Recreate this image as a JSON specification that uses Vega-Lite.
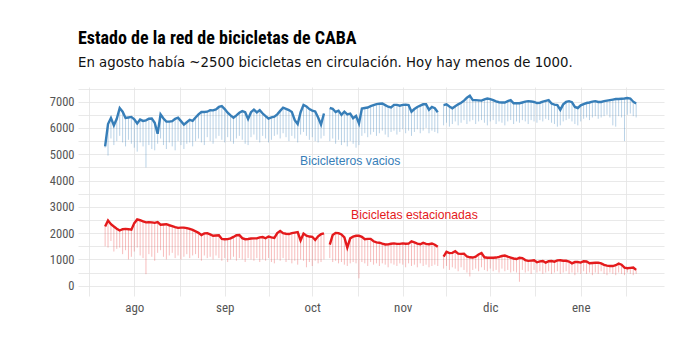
{
  "$schema": "https://vega.github.io/schema/vega-lite/v6.json",
  "width": 586,
  "height": 209,
  "autosize": {"type": "none"},
  "padding": {"left": 78, "top": 87, "right": 29, "bottom": 63},
  "background": "white",
  "title": {
    "text": "Estado de la red de bicicletas de CABA",
    "subtitle": "En agosto había ~2500 bicicletas en circulación. Hoy hay menos de 1000.",
    "anchor": "start",
    "frame": "group",
    "font": "Roboto Condensed, Liberation Sans Narrow, Roboto",
    "fontSize": 18,
    "fontWeight": "bold",
    "color": "#000000",
    "subtitleFont": "DejaVu Sans",
    "subtitleFontSize": 13.3,
    "subtitleColor": "#111111",
    "subtitlePadding": 8,
    "offset": 13
  },
  "config": {
    "view": {"stroke": null},
    "axis": {
      "domain": false,
      "ticks": false,
      "gridColor": "#e3e3e3",
      "gridWidth": 0.8,
      "labelFont": "Roboto Condensed, Liberation Sans Narrow, Roboto",
      "labelFontSize": 12.5,
      "labelColor": "#555555",
      "labelFlush": false,
      "title": null
    }
  },
  "datasets": {
    "d": [
      {"d":"2018-07-22","bx":5300,"bn":5250,"rx":2250,"rn":1500},
      {"d":"2018-07-23","bx":6150,"bn":4950,"rx":2480,"rn":1450},
      {"d":"2018-07-24","bx":6380,"bn":5600,"rx":2340,"rn":1700},
      {"d":"2018-07-25","bx":6100,"bn":5350,"rx":2250,"rn":1300},
      {"d":"2018-07-26","bx":6350,"bn":5500,"rx":2170,"rn":1400},
      {"d":"2018-07-27","bx":6760,"bn":5700,"rx":2100,"rn":1450},
      {"d":"2018-07-28","bx":6620,"bn":5450,"rx":2150,"rn":1200},
      {"d":"2018-07-29","bx":6380,"bn":5300,"rx":2160,"rn":1350},
      {"d":"2018-07-30","bx":6400,"bn":5550,"rx":2150,"rn":1000},
      {"d":"2018-07-31","bx":6420,"bn":5400,"rx":2130,"rn":1100},
      {"d":"2018-08-01","bx":6330,"bn":5250,"rx":2380,"rn":1300},
      {"d":"2018-08-02","bx":6170,"bn":5100,"rx":2520,"rn":1450},
      {"d":"2018-08-03","bx":6320,"bn":5450,"rx":2490,"rn":1150},
      {"d":"2018-08-04","bx":6270,"bn":5300,"rx":2450,"rn":1050},
      {"d":"2018-08-05","bx":6290,"bn":4500,"rx":2410,"rn":440},
      {"d":"2018-08-06","bx":6350,"bn":5350,"rx":2420,"rn":1200},
      {"d":"2018-08-07","bx":6360,"bn":5200,"rx":2410,"rn":1100},
      {"d":"2018-08-08","bx":6200,"bn":5150,"rx":2390,"rn":950},
      {"d":"2018-08-09","bx":5780,"bn":5400,"rx":2420,"rn":1250},
      {"d":"2018-08-10","bx":6520,"bn":5600,"rx":2320,"rn":1350},
      {"d":"2018-08-11","bx":6360,"bn":5350,"rx":2330,"rn":1100},
      {"d":"2018-08-12","bx":6240,"bn":5200,"rx":2340,"rn":1000},
      {"d":"2018-08-13","bx":6240,"bn":5450,"rx":2300,"rn":1150},
      {"d":"2018-08-14","bx":6260,"bn":5300,"rx":2270,"rn":1250},
      {"d":"2018-08-15","bx":6350,"bn":5150,"rx":2230,"rn":1050},
      {"d":"2018-08-16","bx":6390,"bn":5500,"rx":2200,"rn":1150},
      {"d":"2018-08-17","bx":6260,"bn":5350,"rx":2210,"rn":1000},
      {"d":"2018-08-18","bx":6130,"bn":5200,"rx":2210,"rn":1100},
      {"d":"2018-08-19","bx":6220,"bn":5400,"rx":2190,"rn":1200},
      {"d":"2018-08-20","bx":6310,"bn":5450,"rx":2160,"rn":1050},
      {"d":"2018-08-21","bx":6270,"bn":5300,"rx":2120,"rn":1150},
      {"d":"2018-08-22","bx":6400,"bn":5500,"rx":2070,"rn":1200},
      {"d":"2018-08-23","bx":6520,"bn":5600,"rx":2010,"rn":1050},
      {"d":"2018-08-24","bx":6610,"bn":5450,"rx":1930,"rn":950},
      {"d":"2018-08-25","bx":6610,"bn":5350,"rx":1990,"rn":1150},
      {"d":"2018-08-26","bx":6620,"bn":5650,"rx":2000,"rn":1050},
      {"d":"2018-08-27","bx":6680,"bn":5500,"rx":1950,"rn":1100},
      {"d":"2018-08-28","bx":6670,"bn":5400,"rx":1900,"rn":1000},
      {"d":"2018-08-29","bx":6710,"bn":5600,"rx":1910,"rn":1150},
      {"d":"2018-08-30","bx":6800,"bn":5700,"rx":1920,"rn":1050},
      {"d":"2018-08-31","bx":6830,"bn":5550,"rx":1780,"rn":950},
      {"d":"2018-09-01","bx":6720,"bn":5450,"rx":1765,"rn":1050},
      {"d":"2018-09-02","bx":6580,"bn":5650,"rx":1770,"rn":900},
      {"d":"2018-09-03","bx":6480,"bn":5500,"rx":1800,"rn":1000},
      {"d":"2018-09-04","bx":6390,"bn":5400,"rx":1855,"rn":1100},
      {"d":"2018-09-05","bx":6480,"bn":5600,"rx":1920,"rn":950},
      {"d":"2018-09-06","bx":6580,"bn":5700,"rx":1930,"rn":1050},
      {"d":"2018-09-07","bx":6640,"bn":5550,"rx":1810,"rn":1000},
      {"d":"2018-09-08","bx":6600,"bn":5400,"rx":1770,"rn":900},
      {"d":"2018-09-09","bx":6340,"bn":5350,"rx":1775,"rn":1050},
      {"d":"2018-09-10","bx":6600,"bn":5650,"rx":1795,"rn":1000},
      {"d":"2018-09-11","bx":6700,"bn":5750,"rx":1800,"rn":950},
      {"d":"2018-09-12","bx":6590,"bn":5550,"rx":1800,"rn":1050},
      {"d":"2018-09-13","bx":6680,"bn":5450,"rx":1840,"rn":900},
      {"d":"2018-09-14","bx":6550,"bn":5700,"rx":1850,"rn":1000},
      {"d":"2018-09-15","bx":6450,"bn":5600,"rx":1805,"rn":950},
      {"d":"2018-09-16","bx":6360,"bn":5450,"rx":1870,"rn":1050},
      {"d":"2018-09-17","bx":6400,"bn":5550,"rx":1840,"rn":900},
      {"d":"2018-09-18","bx":6430,"bn":5700,"rx":1820,"rn":850},
      {"d":"2018-09-19","bx":6520,"bn":5750,"rx":2000,"rn":1000},
      {"d":"2018-09-20","bx":6650,"bn":5600,"rx":2080,"rn":950},
      {"d":"2018-09-21","bx":6770,"bn":5800,"rx":2000,"rn":1050},
      {"d":"2018-09-22","bx":6730,"bn":5650,"rx":1975,"rn":900},
      {"d":"2018-09-23","bx":6680,"bn":5500,"rx":1965,"rn":980},
      {"d":"2018-09-24","bx":6610,"bn":5700,"rx":2000,"rn":850},
      {"d":"2018-09-25","bx":6300,"bn":5600,"rx":2020,"rn":950},
      {"d":"2018-09-26","bx":6150,"bn":5450,"rx":2040,"rn":800},
      {"d":"2018-09-27","bx":6600,"bn":5750,"rx":1720,"rn":1000},
      {"d":"2018-09-28","bx":6880,"bn":5850,"rx":1980,"rn":950},
      {"d":"2018-09-29","bx":6820,"bn":5700,"rx":1900,"rn":700},
      {"d":"2018-09-30","bx":6720,"bn":5550,"rx":1870,"rn":900},
      {"d":"2018-10-01","bx":6660,"bn":5650,"rx":1860,"rn":750},
      {"d":"2018-10-02","bx":6630,"bn":5500,"rx":1740,"rn":950},
      {"d":"2018-10-03","bx":6400,"bn":5450,"rx":1880,"rn":850},
      {"d":"2018-10-04","bx":6130,"bn":5600,"rx":1960,"rn":900},
      {"d":"2018-10-05","bx":6550,"bn":5700,"rx":1990,"rn":1000},
      {"d":"2018-10-06","bx":null,"bn":null,"rx":null,"rn":null},
      {"d":"2018-10-07","bx":6760,"bn":5500,"rx":1560,"rn":1050},
      {"d":"2018-10-08","bx":6730,"bn":5600,"rx":1930,"rn":900},
      {"d":"2018-10-09","bx":6610,"bn":5400,"rx":2010,"rn":950},
      {"d":"2018-10-10","bx":6660,"bn":5550,"rx":2000,"rn":850},
      {"d":"2018-10-11","bx":6500,"bn":5350,"rx":1950,"rn":900},
      {"d":"2018-10-12","bx":6620,"bn":5450,"rx":1840,"rn":800},
      {"d":"2018-10-13","bx":6520,"bn":5300,"rx":1450,"rn":750},
      {"d":"2018-10-14","bx":6550,"bn":5500,"rx":1800,"rn":850},
      {"d":"2018-10-15","bx":6370,"bn":5400,"rx":1870,"rn":900},
      {"d":"2018-10-16","bx":6460,"bn":5250,"rx":1900,"rn":850},
      {"d":"2018-10-17","bx":6170,"bn":5350,"rx":1900,"rn":280},
      {"d":"2018-10-18","bx":6740,"bn":5700,"rx":1860,"rn":900},
      {"d":"2018-10-19","bx":6760,"bn":5800,"rx":1770,"rn":850},
      {"d":"2018-10-20","bx":6780,"bn":5650,"rx":1780,"rn":750},
      {"d":"2018-10-21","bx":6830,"bn":5750,"rx":1780,"rn":900},
      {"d":"2018-10-22","bx":6870,"bn":5850,"rx":1690,"rn":800},
      {"d":"2018-10-23","bx":6910,"bn":5700,"rx":1650,"rn":850},
      {"d":"2018-10-24","bx":6920,"bn":5800,"rx":1635,"rn":750},
      {"d":"2018-10-25","bx":6930,"bn":5900,"rx":1600,"rn":850},
      {"d":"2018-10-26","bx":6870,"bn":5750,"rx":1570,"rn":800},
      {"d":"2018-10-27","bx":6810,"bn":5650,"rx":1572,"rn":700},
      {"d":"2018-10-28","bx":6780,"bn":5850,"rx":1595,"rn":850},
      {"d":"2018-10-29","bx":6880,"bn":5900,"rx":1610,"rn":800},
      {"d":"2018-10-30","bx":6880,"bn":5750,"rx":1590,"rn":750},
      {"d":"2018-10-31","bx":6850,"bn":5850,"rx":1590,"rn":850},
      {"d":"2018-11-01","bx":6880,"bn":5950,"rx":1610,"rn":800},
      {"d":"2018-11-02","bx":6890,"bn":5800,"rx":1595,"rn":700},
      {"d":"2018-11-03","bx":6870,"bn":5900,"rx":1600,"rn":850},
      {"d":"2018-11-04","bx":6620,"bn":5700,"rx":1690,"rn":750},
      {"d":"2018-11-05","bx":6720,"bn":5850,"rx":1645,"rn":800},
      {"d":"2018-11-06","bx":6800,"bn":5950,"rx":1600,"rn":700},
      {"d":"2018-11-07","bx":6850,"bn":5800,"rx":1575,"rn":850},
      {"d":"2018-11-08","bx":6900,"bn":5900,"rx":1630,"rn":750},
      {"d":"2018-11-09","bx":6900,"bn":6000,"rx":1590,"rn":800},
      {"d":"2018-11-10","bx":6690,"bn":5800,"rx":1580,"rn":700},
      {"d":"2018-11-11","bx":6800,"bn":5900,"rx":1605,"rn":750},
      {"d":"2018-11-12","bx":6750,"bn":5850,"rx":1560,"rn":800},
      {"d":"2018-11-13","bx":6600,"bn":5800,"rx":1480,"rn":750},
      {"d":"2018-11-14","bx":null,"bn":null,"rx":null,"rn":null},
      {"d":"2018-11-15","bx":6870,"bn":6100,"rx":1110,"rn":650},
      {"d":"2018-11-16","bx":6900,"bn":6200,"rx":1290,"rn":750},
      {"d":"2018-11-17","bx":6820,"bn":6050,"rx":1240,"rn":600},
      {"d":"2018-11-18","bx":6750,"bn":6150,"rx":1250,"rn":700},
      {"d":"2018-11-19","bx":6830,"bn":6250,"rx":1310,"rn":650},
      {"d":"2018-11-20","bx":6900,"bn":6100,"rx":1220,"rn":550},
      {"d":"2018-11-21","bx":6960,"bn":6200,"rx":1210,"rn":700},
      {"d":"2018-11-22","bx":7040,"bn":6300,"rx":1220,"rn":600},
      {"d":"2018-11-23","bx":7150,"bn":6150,"rx":1110,"rn":500},
      {"d":"2018-11-24","bx":7230,"bn":6250,"rx":1080,"rn":350},
      {"d":"2018-11-25","bx":7060,"bn":6300,"rx":1070,"rn":600},
      {"d":"2018-11-26","bx":7060,"bn":6150,"rx":1100,"rn":650},
      {"d":"2018-11-27","bx":7050,"bn":6250,"rx":1190,"rn":550},
      {"d":"2018-11-28","bx":7040,"bn":6300,"rx":1240,"rn":700},
      {"d":"2018-11-29","bx":7090,"bn":6200,"rx":1080,"rn":600},
      {"d":"2018-11-30","bx":7120,"bn":6100,"rx":1065,"rn":550},
      {"d":"2018-12-01","bx":7100,"bn":6250,"rx":1065,"rn":650},
      {"d":"2018-12-02","bx":7060,"bn":6300,"rx":1065,"rn":550},
      {"d":"2018-12-03","bx":7010,"bn":6150,"rx":1070,"rn":600},
      {"d":"2018-12-04","bx":6980,"bn":6250,"rx":1095,"rn":500},
      {"d":"2018-12-05","bx":6970,"bn":6200,"rx":1130,"rn":650},
      {"d":"2018-12-06","bx":6970,"bn":6100,"rx":1145,"rn":550},
      {"d":"2018-12-07","bx":7020,"bn":6250,"rx":1105,"rn":600},
      {"d":"2018-12-08","bx":7060,"bn":6300,"rx":1070,"rn":500},
      {"d":"2018-12-09","bx":6940,"bn":6150,"rx":1035,"rn":550},
      {"d":"2018-12-10","bx":6940,"bn":6250,"rx":1015,"rn":500},
      {"d":"2018-12-11","bx":6940,"bn":6200,"rx":1060,"rn":150},
      {"d":"2018-12-12","bx":6970,"bn":6300,"rx":1050,"rn":600},
      {"d":"2018-12-13","bx":7000,"bn":6250,"rx":975,"rn":500},
      {"d":"2018-12-14","bx":7020,"bn":6150,"rx":945,"rn":550},
      {"d":"2018-12-15","bx":7010,"bn":6300,"rx":955,"rn":450},
      {"d":"2018-12-16","bx":6990,"bn":6250,"rx":965,"rn":600},
      {"d":"2018-12-17","bx":6950,"bn":6200,"rx":890,"rn":500},
      {"d":"2018-12-18","bx":6960,"bn":6300,"rx":925,"rn":550},
      {"d":"2018-12-19","bx":7000,"bn":6250,"rx":940,"rn":450},
      {"d":"2018-12-20","bx":7030,"bn":6350,"rx":880,"rn":500},
      {"d":"2018-12-21","bx":7060,"bn":6300,"rx":930,"rn":550},
      {"d":"2018-12-22","bx":6930,"bn":6200,"rx":940,"rn":450},
      {"d":"2018-12-23","bx":6890,"bn":6150,"rx":915,"rn":500},
      {"d":"2018-12-24","bx":6870,"bn":6050,"rx":965,"rn":550},
      {"d":"2018-12-25","bx":6690,"bn":6100,"rx":970,"rn":450},
      {"d":"2018-12-26","bx":6900,"bn":6250,"rx":950,"rn":500},
      {"d":"2018-12-27","bx":6990,"bn":6300,"rx":950,"rn":550},
      {"d":"2018-12-28","bx":7020,"bn":6350,"rx":920,"rn":450},
      {"d":"2018-12-29","bx":6980,"bn":6250,"rx":850,"rn":500},
      {"d":"2018-12-30","bx":6800,"bn":6150,"rx":900,"rn":400},
      {"d":"2018-12-31","bx":6760,"bn":6100,"rx":900,"rn":500},
      {"d":"2019-01-01","bx":6860,"bn":6250,"rx":880,"rn":450},
      {"d":"2019-01-02","bx":6910,"bn":6350,"rx":930,"rn":550},
      {"d":"2019-01-03","bx":6950,"bn":6400,"rx":920,"rn":450},
      {"d":"2019-01-04","bx":6970,"bn":6300,"rx":855,"rn":500},
      {"d":"2019-01-05","bx":7000,"bn":6400,"rx":865,"rn":400},
      {"d":"2019-01-06","bx":7020,"bn":6450,"rx":875,"rn":500},
      {"d":"2019-01-07","bx":6990,"bn":6350,"rx":875,"rn":450},
      {"d":"2019-01-08","bx":6990,"bn":6400,"rx":850,"rn":550},
      {"d":"2019-01-09","bx":7020,"bn":6450,"rx":790,"rn":450},
      {"d":"2019-01-10","bx":7040,"bn":6500,"rx":765,"rn":400},
      {"d":"2019-01-11","bx":7060,"bn":6400,"rx":748,"rn":500},
      {"d":"2019-01-12","bx":7080,"bn":6100,"rx":748,"rn":450},
      {"d":"2019-01-13","bx":7100,"bn":6050,"rx":780,"rn":400},
      {"d":"2019-01-14","bx":7100,"bn":6450,"rx":840,"rn":500},
      {"d":"2019-01-15","bx":7110,"bn":6400,"rx":800,"rn":450},
      {"d":"2019-01-16","bx":7120,"bn":5500,"rx":690,"rn":400},
      {"d":"2019-01-17","bx":7140,"bn":6500,"rx":665,"rn":500},
      {"d":"2019-01-18","bx":7120,"bn":6550,"rx":680,"rn":450},
      {"d":"2019-01-19","bx":7000,"bn":6450,"rx":690,"rn":400},
      {"d":"2019-01-20","bx":6930,"bn":6400,"rx":600,"rn":450}
    ],
    "labs": [
      {"d":"2018-10-14","v":4740,"t":"Bicicleteros vacios","s":"b"},
      {"d":"2018-11-05","v":2690,"t":"Bicicletas estacionadas","s":"r"}
    ]
  },
  "data": {"name": "d"},
  "encoding": {
    "x": {
      "field": "d",
      "type": "temporal",
      "scale": {
        "type": "utc",
        "domain": [
          {"year": 2018, "month": 7, "date": 12, "hours": 17, "utc": true},
          {"year": 2019, "month": 1, "date": 29, "hours": 13, "utc": true}
        ]
      },
      "axis": {
        "values": [
          {"year": 2018, "month": 7, "date": 16, "hours": 12, "utc": true},
          {"year": 2018, "month": 8, "date": 1, "utc": true},
          {"year": 2018, "month": 8, "date": 16, "hours": 12, "utc": true},
          {"year": 2018, "month": 9, "date": 1, "utc": true},
          {"year": 2018, "month": 9, "date": 16, "utc": true},
          {"year": 2018, "month": 10, "date": 1, "utc": true},
          {"year": 2018, "month": 10, "date": 16, "hours": 12, "utc": true},
          {"year": 2018, "month": 11, "date": 1, "utc": true},
          {"year": 2018, "month": 11, "date": 16, "utc": true},
          {"year": 2018, "month": 12, "date": 1, "utc": true},
          {"year": 2018, "month": 12, "date": 16, "hours": 12, "utc": true},
          {"year": 2019, "month": 1, "date": 1, "utc": true},
          {"year": 2019, "month": 1, "date": 16, "hours": 12, "utc": true}
        ],
        "labelExpr": "utcdate(datum.value) == 1 ? ['ene','feb','mar','abr','may','jun','jul','ago','sep','oct','nov','dic'][utcmonth(datum.value)] : ''",
        "labelOverlap": false,
        "labelPadding": 5,
        "labelFontSize": 13
      }
    },
    "y": {
      "field": "bn",
      "type": "quantitative",
      "scale": {"domain": [-392, 7559], "nice": false, "zero": false},
      "axis": {
        "values": [0,500,1000,1500,2000,2500,3000,3500,4000,4500,5000,5500,6000,6500,7000,7500],
        "labelExpr": "datum.value % 1000 == 0 ? datum.value : ''",
        "labelOverlap": false,
        "labelPadding": 4
      }
    }
  },
  "layer": [
    {
      "mark": {"type": "rule", "color": "#377eb8", "opacity": 0.5, "strokeWidth": 0.7},
      "encoding": {
        "y2": {"field": "bx"}
      }
    },
    {
      "mark": {"type": "rule", "color": "#e41a1c", "opacity": 0.42, "strokeWidth": 0.7},
      "encoding": {
        "y": {"field": "rn", "type": "quantitative"},
        "y2": {"field": "rx"}
      }
    },
    {
      "mark": {"type": "line", "color": "#377eb8", "strokeWidth": 2.4},
      "encoding": {"y": {"field": "bx", "type": "quantitative"}}
    },
    {
      "mark": {"type": "line", "color": "#e41a1c", "strokeWidth": 2.4},
      "encoding": {"y": {"field": "rx", "type": "quantitative"}}
    },
    {
      "data": {"name": "labs"},
      "mark": {"type": "text", "font": "Liberation Sans", "fontSize": 12.2, "baseline": "middle", "align": "center"},
      "encoding": {
        "y": {"field": "v", "type": "quantitative"},
        "text": {"field": "t"},
        "color": {
          "field": "s",
          "type": "nominal",
          "scale": {"domain": ["b", "r"], "range": ["#377eb8", "#e41a1c"]},
          "legend": null
        }
      }
    }
  ]
}
